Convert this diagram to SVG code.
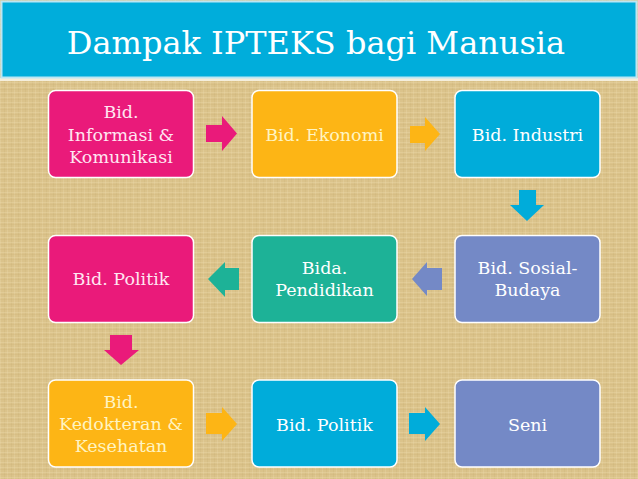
<svg xmlns="http://www.w3.org/2000/svg" width="638" height="479" viewBox="0 0 638 479">
<defs>
<pattern id="tex" width="7" height="5" patternUnits="userSpaceOnUse">
<rect width="7" height="5" fill="#DBC38B"/>
<rect x="0" y="0" width="1" height="5" fill="#E6D3A2" opacity="0.45"/>
<rect x="4" y="0" width="1" height="5" fill="#C9AE72" opacity="0.25"/>
<rect x="0" y="2" width="7" height="1" fill="#E9D9AC" opacity="0.35"/>
<rect x="0" y="4" width="7" height="1" fill="#C7AB6E" opacity="0.2"/>
</pattern>
<style>
.box{stroke:#FFFFFF;stroke-width:1.5;}
.t{font-family:"DejaVu Serif","Liberation Serif",serif;font-size:17.5px;text-anchor:middle;fill:#FFFFFF;}
.ty{fill:#FFF4C2;}
.tp{fill:#FFE6F1;}
.pink{fill:#EA1A7A;}
.orange{fill:#FDB515;}
.cyan{fill:#00ACDA;}
.purple{fill:#7489C6;}
.teal{fill:#1DB297;}
</style>
</defs>
<rect width="638" height="479" fill="url(#tex)"/>
<rect x="0" y="78" width="638" height="3" fill="#F4EEDC"/>
<g id="title">
<rect x="1.5" y="1.5" width="635" height="76" fill="#00ADDB" stroke="#BCE6F3" stroke-width="2"/>
<text x="316" y="54" font-family="DejaVu Serif, Liberation Serif, serif" font-size="32" fill="#FFFFFF" text-anchor="middle">Dampak IPTEKS bagi Manusia</text>
</g>
<g id="n1"><rect class="box pink" x="48.5" y="90.5" width="145" height="87" rx="7"/>
<text class="t tp" x="121" y="118">Bid.</text><text class="t tp" x="121" y="141">Informasi &amp;</text><text class="t tp" x="121" y="163">Komunikasi</text></g>
<g id="n2"><rect class="box orange" x="252" y="90.5" width="145" height="87" rx="7"/>
<text class="t ty" x="324.5" y="141">Bid. Ekonomi</text></g>
<g id="n3"><rect class="box cyan" x="455" y="90.5" width="145" height="87" rx="7"/>
<text class="t" x="527.5" y="141">Bid. Industri</text></g>
<g id="n4"><rect class="box purple" x="455" y="235.5" width="145" height="87" rx="7"/>
<text class="t" x="527.5" y="274">Bid. Sosial-</text><text class="t" x="527.5" y="296">Budaya</text></g>
<g id="n5"><rect class="box teal" x="252" y="235.5" width="145" height="87" rx="7"/>
<text class="t" x="324.5" y="274">Bida.</text><text class="t" x="324.5" y="296">Pendidikan</text></g>
<g id="n6"><rect class="box pink" x="48.5" y="235.5" width="145" height="87" rx="7"/>
<text class="t tp" x="121" y="285">Bid. Politik</text></g>
<g id="n7"><rect class="box orange" x="48.5" y="380" width="145" height="87" rx="7"/>
<text class="t ty" x="121" y="408">Bid.</text><text class="t ty" x="121" y="430">Kedokteran &amp;</text><text class="t ty" x="121" y="452">Kesehatan</text></g>
<g id="n8"><rect class="box cyan" x="252" y="380" width="145" height="87" rx="7"/>
<text class="t" x="324.5" y="431">Bid. Politik</text></g>
<g id="n9"><rect class="box purple" x="455" y="380" width="145" height="87" rx="7"/>
<text class="t" x="527.5" y="431">Seni</text></g>
<g id="connectors">
<polygon class="pink" points="206,125 222,125 222,116 237,133.5 222,151 222,142 206,142"/>
<polygon class="orange" points="410,126 425,126 425,117 440,134 425,151 425,143 410,143"/>
<polygon class="cyan" points="519,190 536,190 536,205 544,205 527,221 510,205 519,205"/>
<polygon class="purple" points="442,268 427,268 427,262 412,279 427,296 427,290 442,290"/>
<polygon class="teal" points="239,268 225,268 225,262 208,279 225,297 225,290 239,290"/>
<polygon class="pink" points="110,335 132,335 132,350 139,350 121,365 104,350 110,350"/>
<polygon class="orange" points="206,413 222,413 222,407 237,424 222,441 222,434 206,434"/>
<polygon class="cyan" points="409,413 425,413 425,407 440,424 425,441 425,434 409,434"/>
</g>
</svg>
